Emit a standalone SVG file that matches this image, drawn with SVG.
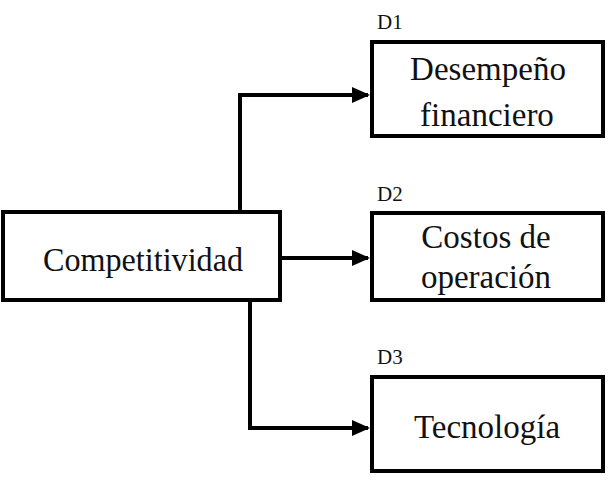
<svg xmlns="http://www.w3.org/2000/svg" width="613" height="492" viewBox="0 0 613 492">
<defs>
<style>
.box{fill:#fff;stroke:#000;stroke-width:4}
.t{font-size:33px;fill:#111;text-anchor:middle}
.d{font-size:21px;fill:#111}
.c{fill:none;stroke:#000;stroke-width:4}
</style>
<marker id="ah" markerWidth="4.5" markerHeight="4" refX="4" refY="2" orient="auto" markerUnits="strokeWidth">
<path d="M0,0 L4.5,2 L0,4 Z" fill="#000"/>
</marker>
</defs>
<rect width="613" height="492" fill="#fff"/>
<g id="connectors">
<path class="c" d="M240,212 V95 H368" marker-end="url(#ah)"/>
<path class="c" d="M282,258 H368" marker-end="url(#ah)"/>
<path class="c" d="M250,300 V428 H368" marker-end="url(#ah)"/>
</g>
<g font-family="Liberation Serif, Times New Roman, serif">
<g id="competitividad">
<rect class="box" x="3" y="212" width="277" height="88"/>
<text class="t" x="143" y="271" textLength="200" lengthAdjust="spacingAndGlyphs">Competitividad</text>
</g>
<g id="d1">
<text class="d" x="377" y="29">D1</text>
<rect class="box" x="372" y="42" width="231" height="94"/>
<text class="t" x="488" y="80">Desempeño</text>
<text class="t" x="487" y="126">financiero</text>
</g>
<g id="d2">
<text class="d" x="377" y="201">D2</text>
<rect class="box" x="372" y="213" width="231" height="87"/>
<text class="t" x="486" y="248">Costos de</text>
<text class="t" x="486" y="288">operación</text>
</g>
<g id="d3">
<text class="d" x="377" y="364">D3</text>
<rect class="box" x="372" y="377" width="231" height="94"/>
<text class="t" x="487" y="438">Tecnología</text>
</g>
</g>
</svg>
